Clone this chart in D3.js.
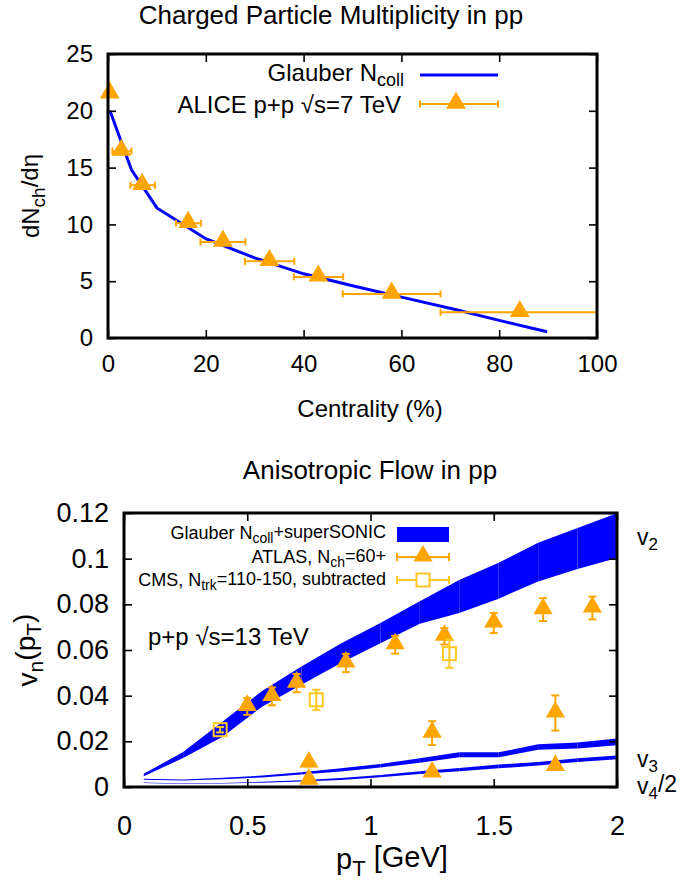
<!DOCTYPE html>
<html>
<head>
<meta charset="utf-8">
<script src="https://cdn.jsdelivr.net/npm/d3@7"></script>
<style>
body { margin:0; background:#fff; }
text { font-family: "Liberation Sans", Arial, sans-serif; fill:#000; }
</style>
</head>
<body>
<div id="chart"></div>
<script>
// ---- top panel data: dNch/deta vs centrality ----
var glauberCent = [0.4, 4.8, 10, 20, 30, 40, 50, 60, 70.6, 80, 89.8];
var glauberVal  = [20.0, 14.8, 11.45, 8.74, 7.05, 5.65, 4.6, 3.6, 2.55, 1.55, 0.55];

var aliceCent = [0.34, 2.73, 6.96, 16.4, 23.5, 33.0, 43.0, 58.0, 84.2];
var aliceVal  = [21.5, 16.45, 13.45, 10.1, 8.45, 6.75, 5.38, 3.88, 2.26];
var aliceLo   = [0, 0.9, 4.6, 13.9, 18.9, 28.0, 38.0, 48.0, 68.0];
var aliceHi   = [0.7, 4.8, 9.6, 19.0, 28.1, 38.1, 48.1, 68.0, 100];

var topXTicks = [0, 20, 40, 60, 80, 100];
var topYTicks = [0, 5, 10, 15, 20, 25];

// ---- bottom panel data: vn(pT) ----
var bandPt = [0.08, 0.24, 0.40, 0.56, 0.72, 0.88, 1.04, 1.20, 1.36, 1.52, 1.68, 1.84, 2.00];
var v2Lo = [0.0047, 0.0127, 0.0220, 0.0352, 0.0448, 0.0543, 0.0630, 0.0715, 0.0762, 0.0825, 0.0900, 0.0955, 0.1003];
var v2Hi = [0.0058, 0.0153, 0.0287, 0.0420, 0.0528, 0.0628, 0.0718, 0.0813, 0.0907, 0.0982, 0.1070, 0.1134, 0.1199];
var v3Lo = [0.0032, 0.0029, 0.0034, 0.0042, 0.0055, 0.0068, 0.0085, 0.0106, 0.0130, 0.0130, 0.0163, 0.0169, 0.0183];
var v3Hi = [0.0036, 0.0033, 0.0040, 0.0050, 0.0065, 0.0082, 0.0101, 0.0126, 0.0152, 0.0152, 0.0187, 0.0195, 0.0212];
var v4Lo = [0.0018, 0.0013, 0.0015, 0.0019, 0.0024, 0.0031, 0.0043, 0.0057, 0.0069, 0.0082, 0.0094, 0.0110, 0.0122];
var v4Hi = [0.0020, 0.0015, 0.0017, 0.0023, 0.0030, 0.0039, 0.0053, 0.0069, 0.0083, 0.0098, 0.0110, 0.0126, 0.0138];

var atlasPt  = [0.5, 0.6, 0.7, 0.9, 1.1, 1.3, 1.5, 1.7, 1.9, 0.75, 1.25, 1.75, 0.75, 1.25, 1.75];
var atlasV   = [0.0353, 0.0397, 0.0455, 0.0543, 0.0623, 0.0660, 0.0718, 0.0777, 0.0784, 0.0105, 0.0236, 0.0324, 0.0030, 0.0061, 0.0090];
var atlasErr = [0.0037, 0.0039, 0.0040, 0.0040, 0.0039, 0.0036, 0.0044, 0.0050, 0.0050, 0.0015, 0.0052, 0.0077, 0.0008, 0.0008, 0.0008];

var cmsPt  = [0.39, 0.78, 1.32];
var cmsV   = [0.0251, 0.0382, 0.0584];
var cmsErr = [0.0012, 0.0044, 0.0062];

var botXTicks = [0, 0.5, 1, 1.5, 2];
var botYTicks = [0, 0.02, 0.04, 0.06, 0.08, 0.1, 0.12];

var BLUE = "#0000ff", ORANGE = "#ffa500", GOLD = "#ffc820";

var svg = d3.select("#chart").append("svg")
	.attr("width", 681).attr("height", 880);

// frame with inward ticks on all four sides
function frame(g, x, y, xt, yt, xfmt, yfmt, fs, xpad, ypad){
	var ax = g.append("g").attr("transform","translate(0,"+y.range()[0]+")")
		.call(d3.axisBottom(x).tickValues(xt).tickFormat(xfmt).tickSizeInner(-8).tickSizeOuter(0).tickPadding(xpad));
	var ay = g.append("g").attr("transform","translate("+x.range()[0]+",0)")
		.call(d3.axisLeft(y).tickValues(yt).tickFormat(yfmt).tickSizeInner(-8).tickSizeOuter(0).tickPadding(ypad));
	var at = g.append("g").attr("transform","translate(0,"+y.range()[1]+")")
		.call(d3.axisTop(x).tickValues(xt).tickFormat("").tickSizeInner(-8).tickSizeOuter(0));
	var ar = g.append("g").attr("transform","translate("+x.range()[1]+",0)")
		.call(d3.axisRight(y).tickValues(yt).tickFormat("").tickSizeInner(-8).tickSizeOuter(0));
	[ax,ay,at,ar].forEach(function(a){
		a.select(".domain").remove();
		a.selectAll("line").attr("stroke","#000").attr("stroke-width",1.6);
		a.selectAll("text").style("font-size",fs+"px").attr("fill","#000")
			.style("font-family","'Liberation Sans', Arial, sans-serif");
	});
	g.append("rect")
		.attr("x",x.range()[0]).attr("y",y.range()[1])
		.attr("width",x.range()[1]-x.range()[0]).attr("height",y.range()[0]-y.range()[1])
		.attr("fill","none").attr("stroke","#000").attr("stroke-width",3);
}

function tri(size){ return d3.symbol().type(d3.symbolTriangle).size(size)(); }

// ================= TOP PANEL =================
var X = d3.scaleLinear().domain([0,100]).range([108,597]);
var Y = d3.scaleLinear().domain([0,25]).range([338,54]);
var topG = svg.append("g");

var glauber = glauberCent.map(function(c,i){ return {x:c, y:glauberVal[i]}; });
var alice = aliceCent.map(function(c,i){ return {x:c, y:aliceVal[i], lo:aliceLo[i], hi:aliceHi[i]}; });

topG.append("path").datum(glauber)
	.attr("d", d3.line().x(function(d){return X(d.x)}).y(function(d){return Y(d.y)}))
	.attr("fill","none").attr("stroke",BLUE).attr("stroke-width",3);

var ae = topG.selectAll(".aerr").data(alice).enter().append("g");
ae.append("line")
	.attr("x1",function(d){return X(d.lo)}).attr("x2",function(d){return X(d.hi)})
	.attr("y1",function(d){return Y(d.y)}).attr("y2",function(d){return Y(d.y)})
	.attr("stroke",ORANGE).attr("stroke-width",2);
ae.filter(function(d,i){return i>0}).selectAll(".cap")
	.data(function(d){return [{x:d.lo,y:d.y},{x:d.hi,y:d.y}]}).enter().append("line")
	.attr("x1",function(d){return X(d.x)}).attr("x2",function(d){return X(d.x)})
	.attr("y1",function(d){return Y(d.y)-3.5}).attr("y2",function(d){return Y(d.y)+3.5})
	.attr("stroke",ORANGE).attr("stroke-width",2);
topG.selectAll(".atri").data(alice).enter().append("path")
	.attr("d",tri(170))
	.attr("transform",function(d){return "translate("+X(d.x)+","+(Y(d.y)-1)+")"})
	.attr("fill",ORANGE);

frame(topG, X, Y, topXTicks, topYTicks, d3.format("d"), d3.format("d"), 24, 17, 15);

// legend
topG.append("text").attr("x",404).attr("y",81).attr("text-anchor","end").style("font-size","24px")
	.call(function(t){
		t.append("tspan").text("Glauber N");
		t.append("tspan").attr("dy","0.25em").style("font-size","18px").text("coll");
	});
topG.append("line").attr("x1",420).attr("x2",498).attr("y1",75).attr("y2",75)
	.attr("stroke",BLUE).attr("stroke-width",3);
topG.append("text").attr("x",401).attr("y",113).attr("text-anchor","end").style("font-size","24px")
	.text("ALICE p+p \u221As=7 TeV");
topG.append("line").attr("x1",420).attr("x2",498).attr("y1",104).attr("y2",104)
	.attr("stroke",ORANGE).attr("stroke-width",2);
[420,498].forEach(function(xx){
	topG.append("line").attr("x1",xx).attr("x2",xx).attr("y1",100.5).attr("y2",107.5)
		.attr("stroke",ORANGE).attr("stroke-width",2);
});
topG.append("path").attr("d",tri(170)).attr("transform","translate(456,103)").attr("fill",ORANGE);

// titles
topG.append("text").attr("x",331).attr("y",24).attr("text-anchor","middle").style("font-size","26px")
	.text("Charged Particle Multiplicity in pp");
topG.append("text").attr("x",370).attr("y",417).attr("text-anchor","middle").style("font-size","24px")
	.text("Centrality (%)");
topG.append("text").attr("transform","translate(39,196) rotate(-90)").attr("text-anchor","middle")
	.style("font-size","24px")
	.call(function(t){
		t.append("tspan").text("dN");
		t.append("tspan").attr("dy","0.3em").style("font-size","19px").text("ch");
		t.append("tspan").attr("dy","-0.3em").text("/d\u03b7");
	});

// ================= BOTTOM PANEL =================
var XB = d3.scaleLinear().domain([0,2]).range([124,617]);
var YB = d3.scaleLinear().domain([0,0.12]).range([787,513]);
var bot = svg.append("g");

var area = d3.area().x(function(d){return XB(d.p)}).y0(function(d){return YB(d.lo)}).y1(function(d){return YB(d.hi)});
function band(lo, hi){
	var pts = bandPt.map(function(p,i){ return {p:p, lo:lo[i], hi:hi[i]}; });
	bot.selectAll(null).data(d3.pairs(pts)).enter().append("path")
		.attr("d",function(d){return area(d)})
		.attr("fill",BLUE).attr("stroke","none");
}
band(v2Lo, v2Hi);
band(v3Lo, v3Hi);
band(v4Lo, v4Hi);

var atlas = atlasPt.map(function(p,i){ return {x:p, y:atlasV[i], e:atlasErr[i]}; });
var cms = cmsPt.map(function(p,i){ return {x:p, y:cmsV[i], e:cmsErr[i]}; });

function yerr(data, color){
	var g = bot.selectAll(null).data(data).enter().append("g");
	g.append("line")
		.attr("x1",function(d){return XB(d.x)}).attr("x2",function(d){return XB(d.x)})
		.attr("y1",function(d){return YB(d.y-d.e)}).attr("y2",function(d){return YB(d.y+d.e)})
		.attr("stroke",color).attr("stroke-width",2);
	g.selectAll(null).data(function(d){return [{x:d.x,y:d.y-d.e},{x:d.x,y:d.y+d.e}]}).enter().append("line")
		.attr("x1",function(d){return XB(d.x)-4}).attr("x2",function(d){return XB(d.x)+4})
		.attr("y1",function(d){return YB(d.y)}).attr("y2",function(d){return YB(d.y)})
		.attr("stroke",color).attr("stroke-width",2);
}
yerr(atlas, ORANGE);
bot.selectAll(null).data(atlas).enter().append("path")
	.attr("d",tri(160))
	.attr("transform",function(d){return "translate("+XB(d.x)+","+(YB(d.y)-1)+")"})
	.attr("fill",ORANGE);
yerr(cms, GOLD);
bot.selectAll(null).data(cms).enter().append("rect")
	.attr("x",function(d){return XB(d.x)-6.5}).attr("y",function(d){return YB(d.y)-6.5})
	.attr("width",13).attr("height",13)
	.attr("fill","none").attr("stroke",GOLD).attr("stroke-width",2);

frame(bot, XB, YB, botXTicks, botYTicks, function(d){return d3.format("~g")(d)}, function(d){return d3.format("~g")(d)}, 27, 29, 15);

// legend
var lg = bot.append("g").style("font-size","18px");
lg.append("text").attr("x",386).attr("y",539).attr("text-anchor","end")
	.call(function(t){
		t.append("tspan").text("Glauber N");
		t.append("tspan").attr("dy","0.3em").style("font-size","14px").text("coll");
		t.append("tspan").attr("dy","-0.3em").text("+superSONIC");
	});
lg.append("rect").attr("x",397).attr("y",527).attr("width",52).attr("height",15).attr("fill",BLUE);

lg.append("text").attr("x",386).attr("y",563).attr("text-anchor","end")
	.call(function(t){
		t.append("tspan").text("ATLAS, N");
		t.append("tspan").attr("dy","0.3em").style("font-size","14px").text("ch");
		t.append("tspan").attr("dy","-0.3em").text("=60+");
	});
lg.append("text").attr("x",386).attr("y",586).attr("text-anchor","end")
	.call(function(t){
		t.append("tspan").text("CMS, N");
		t.append("tspan").attr("dy","0.3em").style("font-size","14px").text("trk");
		t.append("tspan").attr("dy","-0.3em").text("=110-150, subtracted");
	});
[[557,ORANGE],[580,GOLD]].forEach(function(r){
	lg.append("line").attr("x1",397).attr("x2",449).attr("y1",r[0]).attr("y2",r[0]).attr("stroke",r[1]).attr("stroke-width",2);
	[397,449].forEach(function(xx){
		lg.append("line").attr("x1",xx).attr("x2",xx).attr("y1",r[0]-4).attr("y2",r[0]+4).attr("stroke",r[1]).attr("stroke-width",2);
	});
});
lg.append("path").attr("d",tri(160)).attr("transform","translate(423,556)").attr("fill",ORANGE);
lg.append("rect").attr("x",416.5).attr("y",573.5).attr("width",13).attr("height",13)
	.attr("fill","#fff").attr("stroke",GOLD).attr("stroke-width",2);

bot.append("text").attr("x",148).attr("y",645).style("font-size","24px").text("p+p \u221As=13 TeV");

// right-hand labels
function vlab(yy, sub, tail){
	bot.append("text").attr("x",637).attr("y",yy).style("font-size","23px")
		.call(function(t){
			t.append("tspan").text("v");
			t.append("tspan").attr("dy","0.3em").style("font-size","17px").text(sub);
			if(tail) t.append("tspan").attr("dy","-0.3em").text(tail);
		});
}
vlab(545, "2");
vlab(767, "3");
vlab(794, "4", "/2");

// titles
bot.append("text").attr("x",370).attr("y",479).attr("text-anchor","middle").style("font-size","26px")
	.text("Anisotropic Flow in pp");
bot.append("text").attr("x",392).attr("y",869).attr("text-anchor","middle").style("font-size","29px")
	.call(function(t){
		t.append("tspan").text("p");
		t.append("tspan").attr("dy","0.3em").style("font-size","22px").text("T");
		t.append("tspan").attr("dy","-0.3em").text(" [GeV]");
	});
bot.append("text").attr("transform","translate(37,650) rotate(-90)").attr("text-anchor","middle")
	.style("font-size","28px")
	.call(function(t){
		t.append("tspan").text("v");
		t.append("tspan").attr("dy","0.3em").style("font-size","21px").text("n");
		t.append("tspan").attr("dy","-0.3em").text("(p");
		t.append("tspan").attr("dy","0.3em").style("font-size","21px").text("T");
		t.append("tspan").attr("dy","-0.3em").text(")");
	});
</script>
</body>
</html>
